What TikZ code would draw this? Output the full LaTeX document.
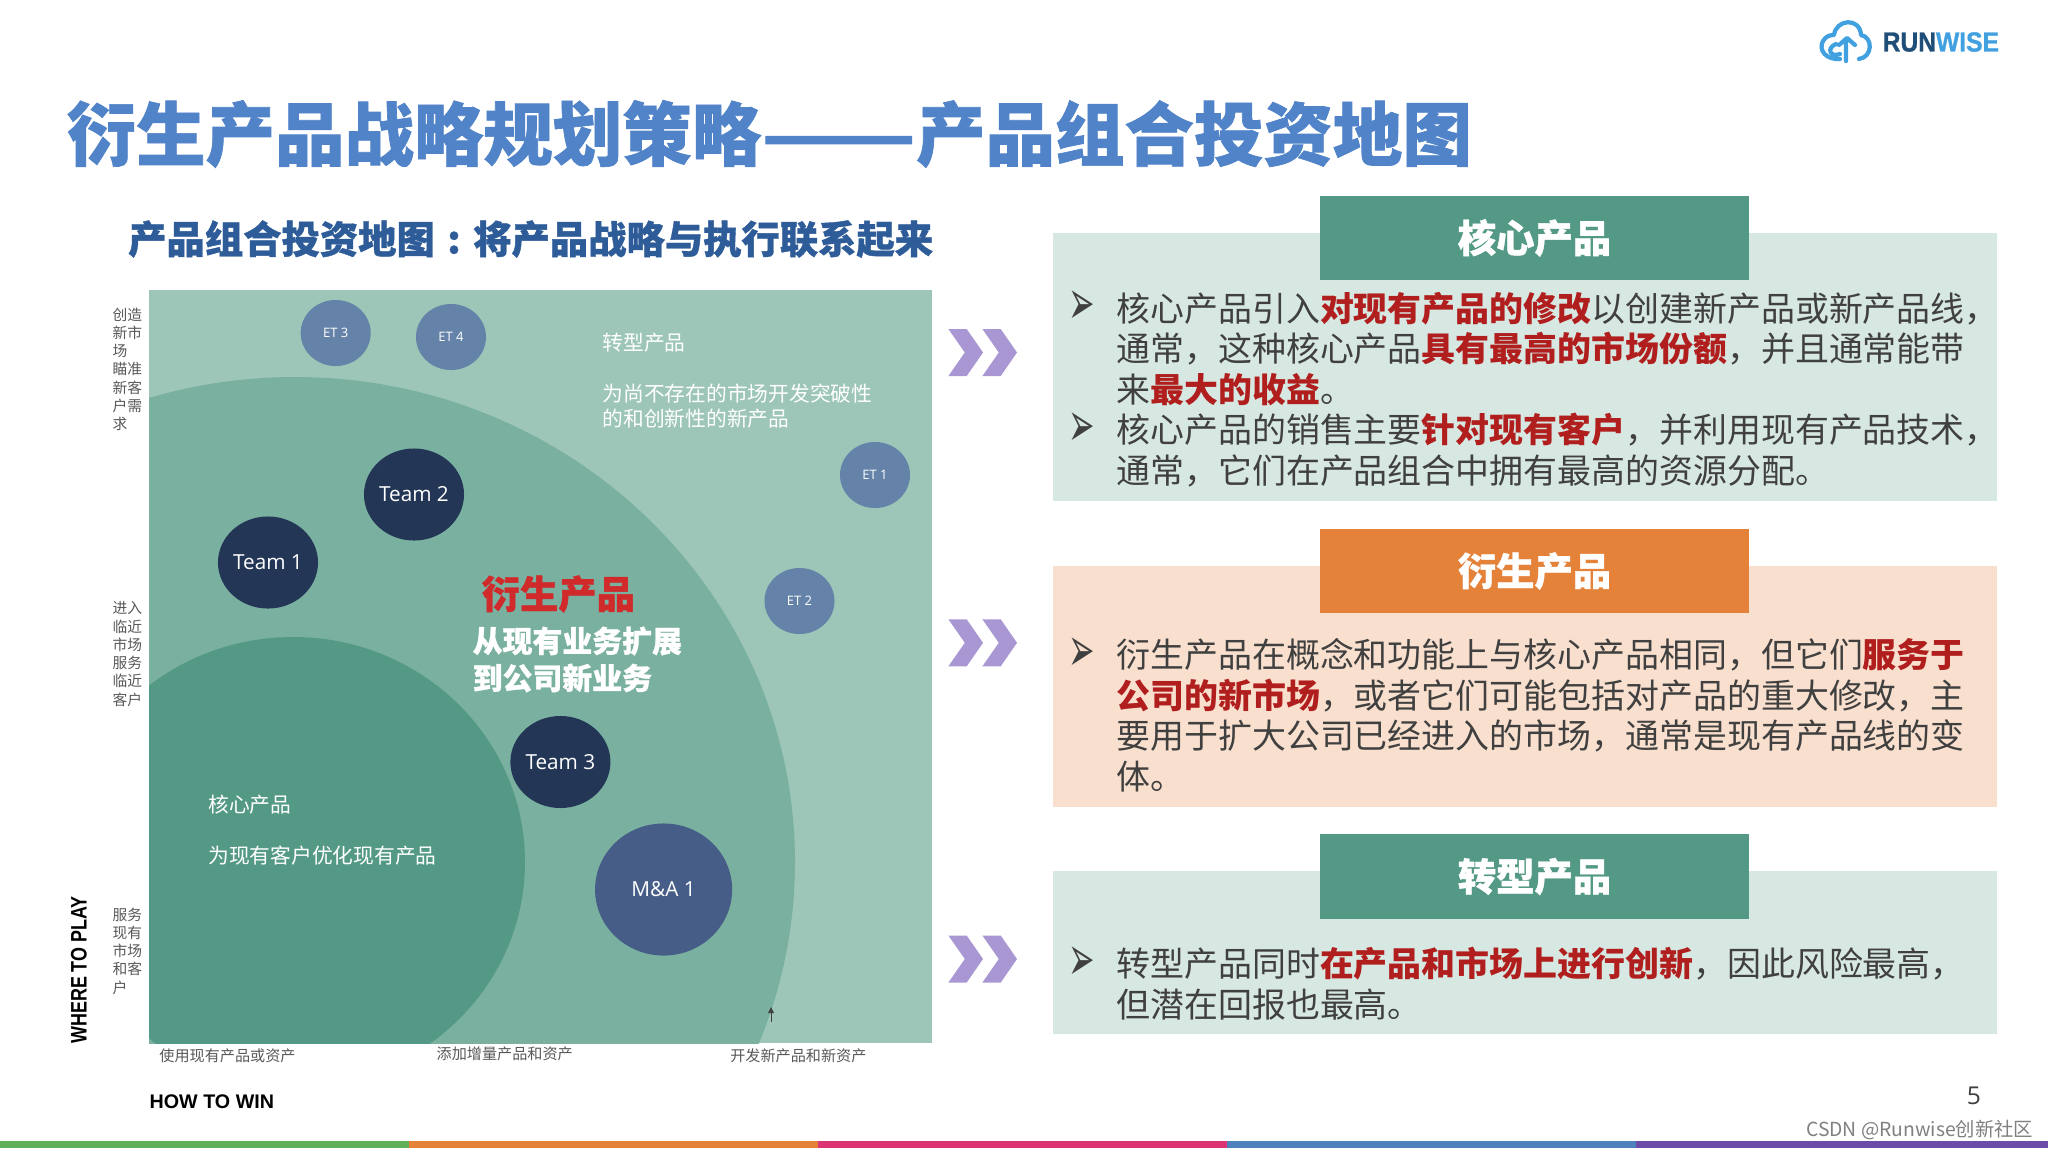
\documentclass[tikz,border=0pt]{standalone}
\usepackage{fontspec}
\setmainfont{Noto Sans CJK SC}
\newfontfamily\latinfont{Open Sans}
\newfontfamily\arialfont{Liberation Sans}
\newfontfamily\symbolfont{DejaVu Sans}
\usetikzlibrary{shapes.geometric}

\definecolor{titleblue}{HTML}{5083C8}
\definecolor{subblue}{HTML}{2E5C99}
\definecolor{mapouter}{HTML}{9DC6B8}
\definecolor{mapmiddle}{HTML}{7AB0A0}
\definecolor{mapinner}{HTML}{549985}
\definecolor{teamdark}{HTML}{233655}
\definecolor{mergeblue}{HTML}{465D87}
\definecolor{etblue}{HTML}{6583A8}
\definecolor{chevron}{HTML}{A897D3}
\definecolor{panelgreen}{HTML}{D7E7E1}
\definecolor{panelorange}{HTML}{F9E0CE}
\definecolor{headorange}{HTML}{E5823A}
\definecolor{hotred}{HTML}{B01E1E}
\definecolor{mapred}{HTML}{D02A2A}
\definecolor{bodygray}{HTML}{404040}
\definecolor{smallgray}{HTML}{595959}
\definecolor{logodark}{HTML}{1F4E79}
\definecolor{logolight}{HTML}{41A0E0}
\definecolor{stripgreen}{HTML}{5FB05A}
\definecolor{strippink}{HTML}{DB3374}
\definecolor{stripblue}{HTML}{4F81BD}
\definecolor{strippurple}{HTML}{6B4CA8}

\newcommand{\hot}[1]{\textbf{\textcolor{hotred}{#1}}}
\newcommand{\heavy}{\bfseries\addfontfeature{FakeBold=1}}

\tikzset{
  headbox/.style={fill=#1,text=white,font=\fontsize{10.9}{13}\selectfont\heavy,
    minimum width=4.29cm,minimum height=0.84cm,inner sep=0},
  bodytext/.style={anchor=north west,inner sep=0,align=left,text=bodygray,
    font=\fontsize{9.65}{11.5}\selectfont},
  bulletmark/.style={inner sep=0,text=bodygray,font=\fontsize{9}{9}\symbolfont},
  etnode/.style={ellipse,fill=etblue,text=white,inner sep=0,minimum width=0.70cm,
    minimum height=0.66cm,font=\fontsize{3.7}{4}\latinfont},
  teamnode/.style={ellipse,fill=teamdark,text=white,inner sep=0,minimum width=1.00cm,
    minimum height=0.92cm,font=\fontsize{5.9}{7}\latinfont},
  maptext/.style={anchor=west,inner sep=0,text=white,font=\fontsize{5.9}{7}\selectfont},
  sidetext/.style={anchor=north west,inner sep=0,align=left,text=smallgray,
    font=\fontsize{4.2}{5.2}\selectfont},
  axistext/.style={anchor=west,inner sep=0,text=smallgray,font=\fontsize{4.3}{5}\selectfont}
}

\begin{document}
\begin{tikzpicture}[x=0.01cm,y=-0.01cm]

  \useasboundingbox (0,0) rectangle (2048,1148);
  \fill[white] (0,0) rectangle (2048,1148);

  % title lines
  \node[anchor=west,inner sep=0,text=titleblue,font=\fontsize{19.75}{22}\selectfont\heavy]
    (title) at (66,134) {衍生产品战略规划策略\scalebox{1.30}[1]{——}产品组合投资地图};
  \node[anchor=west,inner sep=0,text=subblue,font=\fontsize{10.9}{13}\selectfont\heavy]
    (subtitle) at (127.5,239) {产品组合投资地图\makebox[1em][c]{:}将产品战略与执行联系起来};

  % map
  \fill[mapouter] (149,290) rectangle (931.5,1043);
  \begin{scope}
    \clip (149,290) rectangle (931.5,1043);
    \fill[mapmiddle] (295,862) ellipse [x radius=500,y radius=485];
    \fill[mapinner] (293,862) ellipse [x radius=232,y radius=225];
  \end{scope}
  \draw[black!75,line width=0.25pt] (771,1022) -- (771,1012);
  \fill[black!75] (771,1007) -- (774,1013) -- (768,1013) -- cycle;

  \node[etnode] (et3) at (335.7,333) {ET 3};
  \node[etnode] (et4) at (451,337) {ET 4};
  \node[etnode] (et1) at (875,475) {ET 1};
  \node[etnode] (et2) at (799.5,601) {ET 2};
  \node[teamnode] (team2) at (414,494.5) {Team 2};
  \node[teamnode] (team1) at (268,562.5) {Team 1};
  \node[teamnode] (team3) at (560.4,762) {Team 3};
  \node[teamnode,fill=mergeblue,minimum width=1.37cm,minimum height=1.32cm] (merge1)
    at (663.6,889.5) {M\&A 1};

  \node[maptext] (trans) at (602,342.6) {转型产品};
  \node[maptext] (transa) at (602,394) {为尚不存在的市场开发突破性};
  \node[maptext] (transb) at (602,419) {的和创新性的新产品};
  \node[maptext] (core) at (207.7,804.6) {核心产品};
  \node[maptext] (corea) at (207.7,856) {为现有客户优化现有产品};
  \node[maptext,text=mapred,font=\fontsize{10.9}{13}\selectfont\heavy]
    (deriv) at (481,594) {衍生产品};
  \node[maptext,font=\fontsize{8.5}{10}\selectfont\heavy] (deriva) at (472,641) {从现有业务扩展};
  \node[maptext,font=\fontsize{8.5}{10}\selectfont\heavy] (derivb) at (472,678) {到公司新业务};

  % axes
  \node[sidetext] (sidea) at (112,307) {创造\\新市\\场\\瞄准\\新客\\户需\\求};
  \node[sidetext] (sideb) at (112,601) {进入\\临近\\市场\\服务\\临近\\客户};
  \node[sidetext] (sidec) at (112,907) {服务\\现有\\市场\\和客\\户};
  \node[axistext] (axisa) at (158.7,1056) {使用现有产品或资产};
  \node[axistext] (axisb) at (436,1054) {添加增量产品和资产};
  \node[axistext] (axisc) at (729.6,1056) {开发新产品和新资产};
  \node[rotate=90,inner sep=0,font=\fontsize{5.1}{6}\arialfont\bfseries] (where) at (79,970)
    {\scalebox{1}[1.25]{WHERE TO PLAY}};
  \node[anchor=west,inner sep=0,font=\fontsize{5.6}{6}\arialfont\bfseries] (how) at (149,1101.5)
    {HOW TO WIN};

  % chevrons
  \foreach \rowy in {352.5,642.8,959}{
    \foreach \colx in {0,34}{
      \begin{scope}[xshift=\colx*0.01cm,yshift=-\rowy*0.01cm]
        \fill[chevron] (948.4,-23.5) -- (966.7,-23.5) -- (983,0) -- (966.7,23.5)
          -- (948.4,23.5) -- (964.8,0) -- cycle;
      \end{scope}
    }
  }

  % panels
  \fill[panelgreen] (1053,233) rectangle (1996.5,501);
  \fill[panelorange] (1053,565.5) rectangle (1996.5,806.5);
  \fill[panelgreen] (1053,871) rectangle (1996.5,1034);

  \node[headbox=mapinner] (head1) at (1534.5,238) {核心产品};
  \node[headbox=headorange] (head2) at (1534.5,571) {衍生产品};
  \node[headbox=mapinner] (head3) at (1534.5,876.5) {转型产品};

  \node[bulletmark] (bula) at (1081.5,308) {\scalebox{1}[2]{➢}};
  \node[bulletmark] (bulb) at (1081.5,430) {\scalebox{1}[2]{➢}};
  \node[bulletmark] (bulc) at (1081.5,655) {\scalebox{1}[2]{➢}};
  \node[bulletmark] (buld) at (1081.5,964) {\scalebox{1}[2]{➢}};

  \node[bodytext] (texta) at (1115.7,291.5) {
    核心产品引入\hot{对现有产品的修改}以创建新产品或新产品线，\\
    通常，这种核心产品\hot{具有最高的市场份额}，并且通常能带\\
    来\hot{最大的收益}。\\
    核心产品的销售主要\hot{针对现有客户}，并利用现有产品技术，\\
    通常，它们在产品组合中拥有最高的资源分配。};
  \node[bodytext] (textb) at (1115.7,638) {
    衍生产品在概念和功能上与核心产品相同，但它们\hot{服务于}\\
    \hot{公司的新市场}，或者它们可能包括对产品的重大修改，主\\
    要用于扩大公司已经进入的市场，通常是现有产品线的变\\
    体。};
  \node[bodytext] (textc) at (1115.7,946.5) {
    转型产品同时\hot{在产品和市场上进行创新}，因此风险最高，\\
    但潜在回报也最高。};

  % logo
  \draw[logolight,line width=1.2pt,line cap=round,line join=round]
    (1840,59) .. controls (1826,60) and (1818,50) .. (1823,41)
    .. controls (1826,36) and (1830,35) .. (1834,35)
    .. controls (1836,19) and (1860,17) .. (1861,35)
    .. controls (1873,37) and (1873,57) .. (1859,59);
  \draw[logolight,line width=1.2pt,line cap=round,line join=round]
    (1846,61) -- (1846,41) (1839,45) -- (1847,38) -- (1855,45)
    (1836,44) .. controls (1826,48) and (1830,58) .. (1840,54);
  \node[anchor=west,inner sep=0,font=\fontsize{7}{8}\arialfont\bfseries] (logo) at (1882,42)
    {\addfontfeature{FakeBold=1}\scalebox{1}[1.12]{\textcolor{logodark}{RUN}\textcolor{logolight}{WISE}}};

  % footer
  \node[inner sep=0,text=bodygray,font=\fontsize{7}{8}\latinfont] (page) at (1974,1096) {5};
  \node[anchor=east,inner sep=0,text=gray,font=\fontsize{5.5}{7}\selectfont] (mark) at (2034,1129.5)
    {CSDN @Runwise创新社区};

  \fill[stripgreen] (0,1140.6) rectangle (409,1148);
  \fill[headorange] (409,1140.6) rectangle (818,1148);
  \fill[strippink] (818,1140.6) rectangle (1227,1148);
  \fill[stripblue] (1227,1140.6) rectangle (1636,1148);
  \fill[strippurple] (1636,1140.6) rectangle (2048,1148);

\end{tikzpicture}
\end{document}
